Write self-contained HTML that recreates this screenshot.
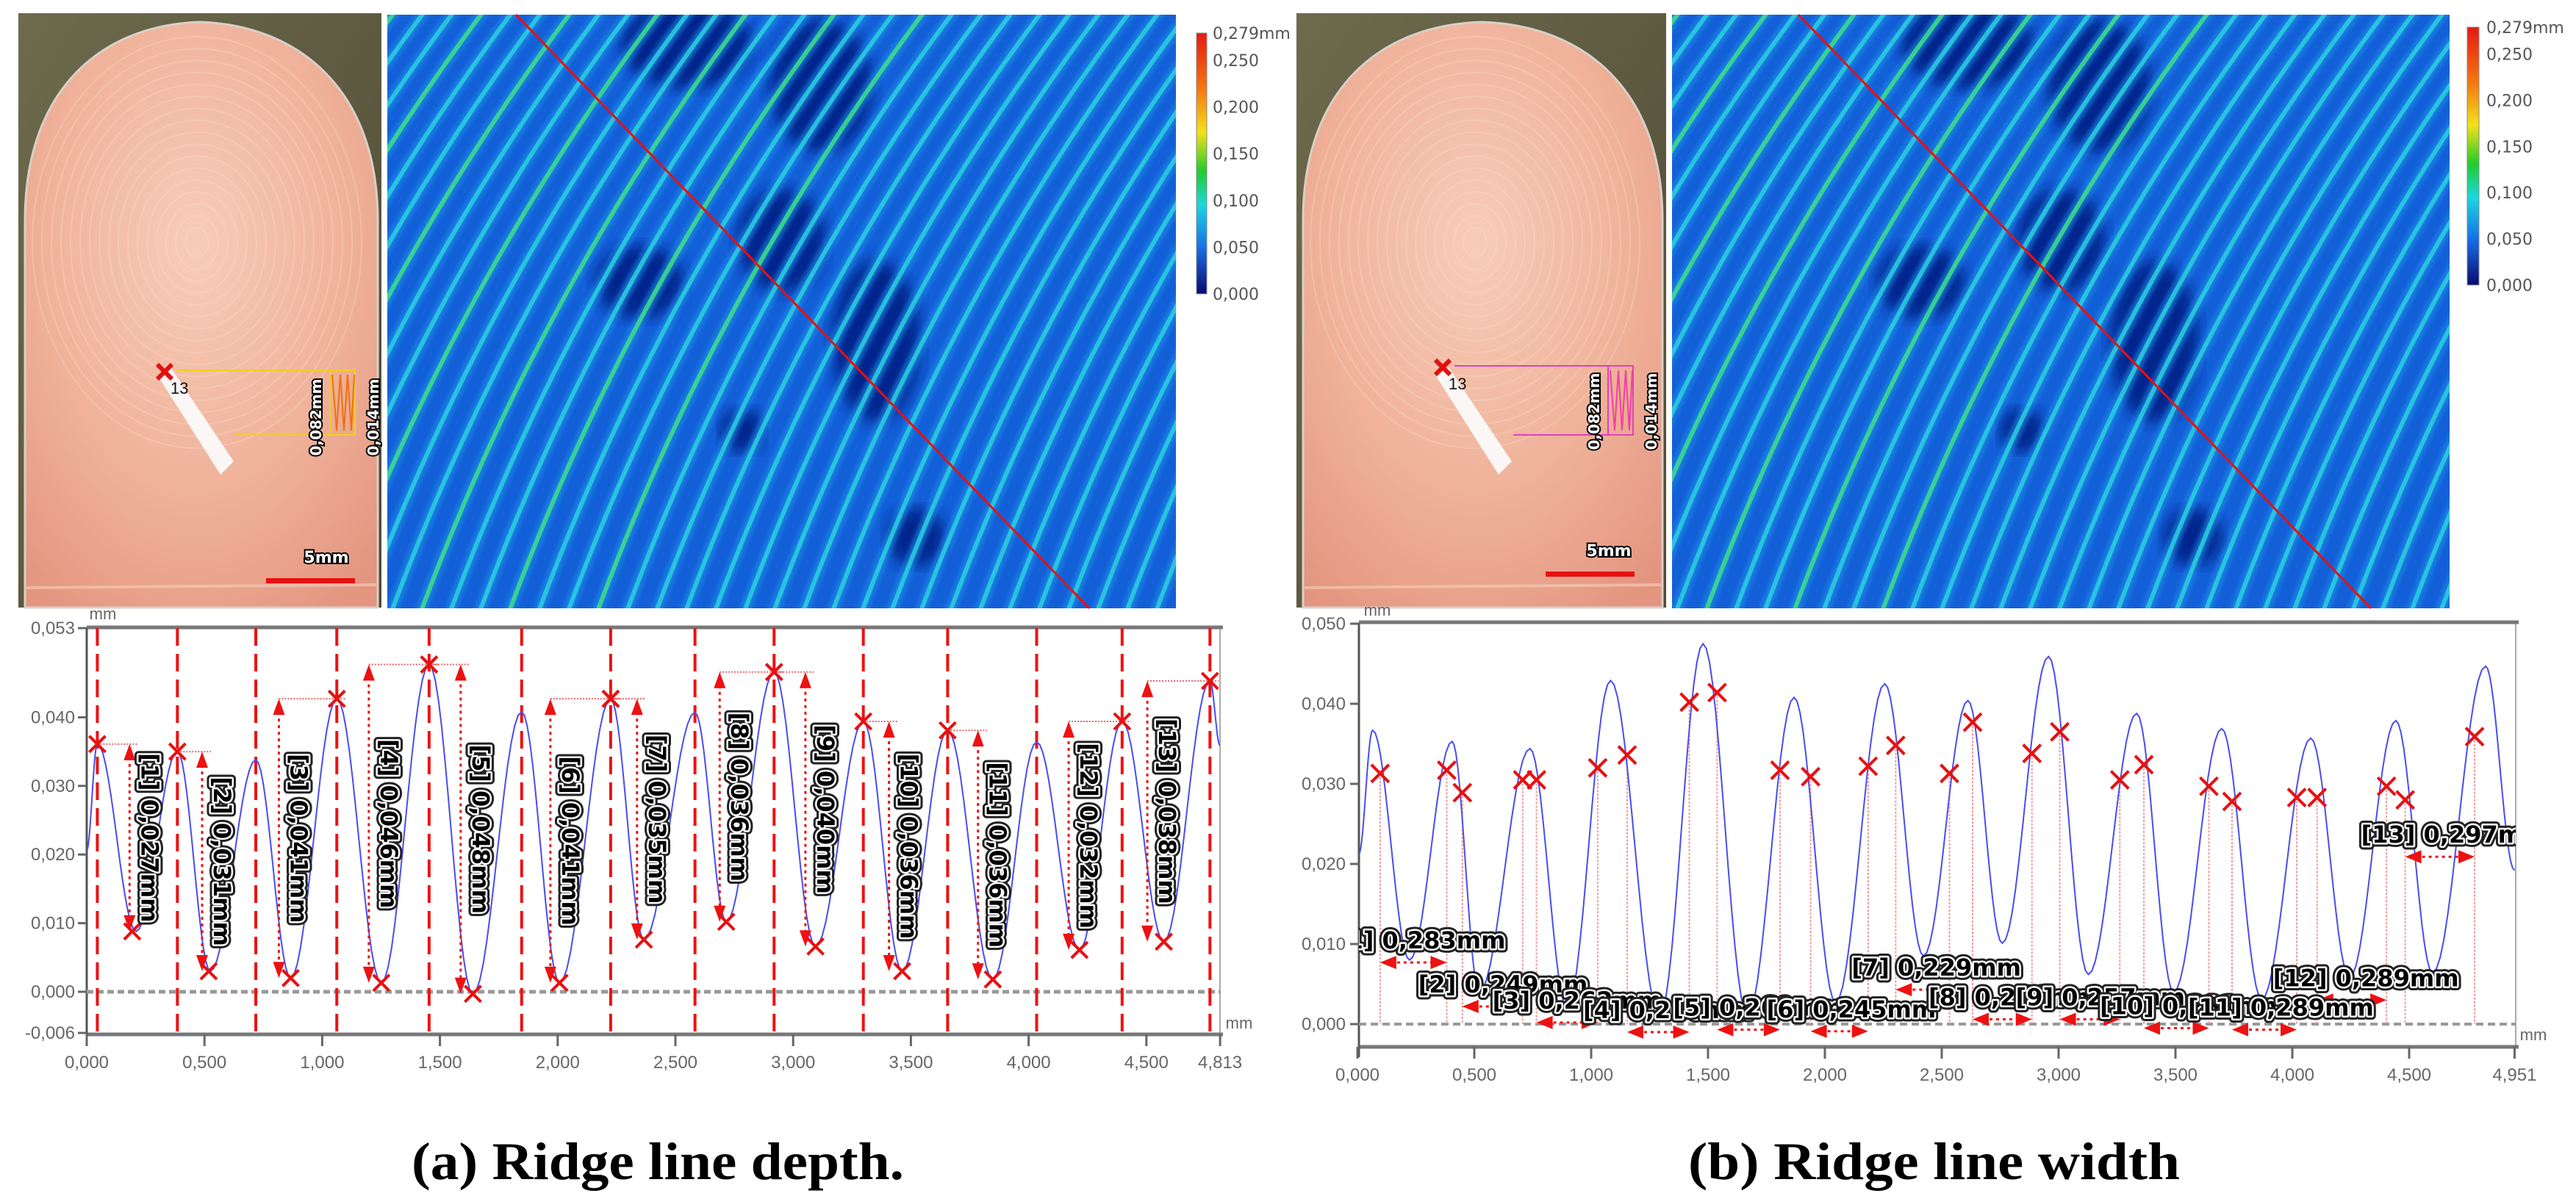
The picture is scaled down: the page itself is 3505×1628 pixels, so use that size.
<!DOCTYPE html>
<html><head><meta charset="utf-8"><title>Ridge line depth and width</title>
<style>
html,body{margin:0;padding:0;background:#fff;}
svg{display:block;}
</style></head>
<body>
<svg id="fig" xmlns="http://www.w3.org/2000/svg" width="3505" height="1628" viewBox="0 0 3505 1628">
<defs>
  <radialGradient id="skin" cx="0.48" cy="0.38" r="0.75">
    <stop offset="0" stop-color="#f7cdb8"/><stop offset="0.6" stop-color="#efb098"/><stop offset="1" stop-color="#e39580"/>
  </radialGradient>
  <linearGradient id="olive" x1="0" y1="0" x2="1" y2="1">
    <stop offset="0" stop-color="#6e6a4c"/><stop offset="1" stop-color="#4f4b35"/>
  </linearGradient>
  <linearGradient id="cbar" x1="0" y1="0" x2="0" y2="1">
    <stop offset="0" stop-color="#e41a12"/><stop offset="0.22" stop-color="#f57a10"/><stop offset="0.38" stop-color="#f2e21a"/>
    <stop offset="0.53" stop-color="#22cc2a"/><stop offset="0.66" stop-color="#18d8e0"/><stop offset="0.82" stop-color="#1870e8"/><stop offset="1" stop-color="#0a0a70"/>
  </linearGradient>
  <clipPath id="clipHA"><rect x="527" y="20" width="1073" height="808"/></clipPath>
  <clipPath id="clipHB"><rect x="2275" y="20" width="1058" height="808"/></clipPath>
  <clipPath id="clipCA"><rect x="118" y="855" width="1542" height="553"/></clipPath>
  <clipPath id="clipCB"><rect x="1849" y="848" width="1574" height="577"/></clipPath>
  <filter id="blur3"><feGaussianBlur stdDeviation="3"/></filter>
  <filter id="blur8"><feGaussianBlur stdDeviation="10"/></filter>
</defs>

<g id="fingerA">
  <rect x="25" y="18" width="494" height="809" fill="url(#olive)"/>
  <path d="M34,827 L34,300 C34,120 140,34 272,30 C404,34 514,120 514,300 L514,827 Z" fill="url(#skin)" stroke="#d8d0c8" stroke-width="3"/>
  <g id="whorlA" fill="none" stroke="#fbe0d2" stroke-width="2" opacity="0.3"></g>
  <line x1="36" y1="800" x2="512" y2="796" stroke="#f5c8b4" stroke-width="4" opacity="0.7"/>
  <polygon points="215,512 232,500 318,628 300,646" fill="#fafafa" opacity="0.95"/>
  <line x1="240" y1="504" x2="483" y2="504" stroke="#f0d020" stroke-width="2"/>
  <line x1="320" y1="592" x2="483" y2="592" stroke="#f0d020" stroke-width="2"/>
  <rect x="449" y="504" width="34" height="88" fill="none" stroke="#f0d020" stroke-width="2"/>
  <path d="M452,510 l6,76 l5,-76 l5,76 l5,-76 l5,76 l4,-76" fill="none" stroke="#f07010" stroke-width="2"/>
  <path d="M214,496 l20,20 M234,496 l-20,20" stroke="#e41010" stroke-width="6"/>
  <text x="232" y="536" font-family="Liberation Sans, sans-serif" font-size="22" fill="#111">13</text>
  <text transform="rotate(-90 430 568)" x="430" y="568" text-anchor="middle" dominant-baseline="central" font-family="DejaVu Sans, sans-serif" font-weight="bold" font-size="20" fill="#fff" stroke="#000" stroke-width="4" paint-order="stroke">0,082mm</text>
  <text transform="rotate(-90 508 568)" x="508" y="568" text-anchor="middle" dominant-baseline="central" font-family="DejaVu Sans, sans-serif" font-weight="bold" font-size="20" fill="#fff" stroke="#000" stroke-width="4" paint-order="stroke">0,014mm</text>
  <text x="444" y="766" text-anchor="middle" font-family="DejaVu Sans, sans-serif" font-weight="bold" font-size="22" fill="#fff" stroke="#000" stroke-width="4" paint-order="stroke">5mm</text>
  <rect x="362" y="787" width="121" height="7" fill="#e81010"/>
</g>

<g id="fingerB" transform="translate(1739 0)">
  <rect x="25" y="18" width="503" height="809" fill="url(#olive)"/>
  <path d="M34,827 L34,300 C34,120 140,34 277,30 C414,34 523,120 523,300 L523,827 Z" fill="url(#skin)" stroke="#d8d0c8" stroke-width="3"/>
  <g id="whorlB" fill="none" stroke="#fbe0d2" stroke-width="2" opacity="0.3"></g>
  <line x1="36" y1="800" x2="521" y2="796" stroke="#f5c8b4" stroke-width="4" opacity="0.7"/>
  <polygon points="215,512 232,500 318,628 300,646" fill="#fafafa" opacity="0.95"/>
  <line x1="240" y1="498" x2="483" y2="498" stroke="#e040c0" stroke-width="2"/>
  <line x1="320" y1="592" x2="483" y2="592" stroke="#e040c0" stroke-width="2"/>
  <rect x="449" y="498" width="34" height="94" fill="none" stroke="#e040c0" stroke-width="2"/>
  <path d="M452,504 l6,82 l5,-82 l5,82 l5,-82 l5,82 l4,-82" fill="none" stroke="#f040a0" stroke-width="2"/>
  <path d="M214,490 l20,20 M234,490 l-20,20" stroke="#e41010" stroke-width="6"/>
  <text x="232" y="530" font-family="Liberation Sans, sans-serif" font-size="22" fill="#111">13</text>
  <text transform="rotate(-90 430 560)" x="430" y="560" text-anchor="middle" dominant-baseline="central" font-family="DejaVu Sans, sans-serif" font-weight="bold" font-size="20" fill="#fff" stroke="#000" stroke-width="4" paint-order="stroke">0,082mm</text>
  <text transform="rotate(-90 508 560)" x="508" y="560" text-anchor="middle" dominant-baseline="central" font-family="DejaVu Sans, sans-serif" font-weight="bold" font-size="20" fill="#fff" stroke="#000" stroke-width="4" paint-order="stroke">0,014mm</text>
  <text x="450" y="757" text-anchor="middle" font-family="DejaVu Sans, sans-serif" font-weight="bold" font-size="22" fill="#fff" stroke="#000" stroke-width="4" paint-order="stroke">5mm</text>
  <rect x="364" y="778" width="121" height="7" fill="#e81010"/>
</g>

<g id="heatA" clip-path="url(#clipHA)"></g>
<g id="heatB" clip-path="url(#clipHB)"></g>
<line x1="702" y1="20" x2="1482" y2="828" stroke="#e81010" stroke-width="3"/>
<line x1="2447" y1="20" x2="3226" y2="828" stroke="#e81010" stroke-width="3"/>

<g id="colorbarA" font-family="DejaVu Sans, sans-serif" font-size="22" fill="#555">
  <rect x="1628" y="45" width="14" height="355" fill="url(#cbar)" stroke="#888" stroke-width="1"/>
</g>
<g id="colorbarB" font-family="DejaVu Sans, sans-serif" font-size="22" fill="#555">
  <rect x="3357" y="37" width="16" height="351" fill="url(#cbar)" stroke="#888" stroke-width="1"/>
</g>

<g id="chartA"></g>
<g id="chartB"></g>

<text x="560" y="1605" textLength="670" lengthAdjust="spacingAndGlyphs" font-family="Liberation Serif, serif" font-weight="bold" font-size="72" fill="#000">(a) Ridge line depth.</text>
<text x="2297" y="1605" textLength="669" lengthAdjust="spacingAndGlyphs" font-family="Liberation Serif, serif" font-weight="bold" font-size="72" fill="#000">(b) Ridge line width</text>
</svg>

<script>
// ---------------- chart A data (depth) ----------------
const curveAx = [0.0,0.045,0.210,0.385,0.525,0.718,0.866,1.062,1.251,1.454,1.640,1.847,2.008,2.225,2.366,2.583,2.716,2.919,3.095,3.298,3.463,3.656,3.848,4.034,4.216,4.397,4.574,4.770,4.813];
const curveAy = [0.0206,0.0361,0.0088,0.0350,0.0030,0.0338,0.0020,0.0427,0.0013,0.0477,-0.0003,0.0408,0.0013,0.0427,0.0076,0.0407,0.0102,0.0466,0.0066,0.0394,0.0030,0.0381,0.0018,0.0364,0.0061,0.0394,0.0073,0.0453,0.0359];
const depthPeakX = [0.045,0.385,1.062,1.454,1.454,2.225,2.225,2.919,2.919,3.298,3.656,4.397,4.770];
const depthPeakV = [0.0361,0.0350,0.0427,0.0477,0.0477,0.0427,0.0427,0.0466,0.0466,0.0394,0.0381,0.0394,0.0453];
const depthTroughX = [0.193,0.518,0.866,1.251,1.640,2.008,2.366,2.716,3.095,3.463,3.848,4.216,4.574];
const depthTroughV = [0.0088,0.0030,0.0020,0.0013,-0.0003,0.0013,0.0076,0.0102,0.0066,0.0030,0.0018,0.0061,0.0073];
const depthArrowX = [0.182,0.490,0.816,1.198,1.588,1.969,2.337,2.688,3.052,3.407,3.785,4.170,4.504];
const depthLabels = ["0,027","0,031","0,041","0,046","0,048","0,041","0,035","0,036","0,040","0,036","0,036","0,032","0,038"];
const yTicksA = [0.053,0.040,0.030,0.020,0.010,0.000,-0.006];
const yTickLabelsA = ["0,053","0,040","0,030","0,020","0,010","0,000","-0,006"];
const xTicksA = [0,0.5,1,1.5,2,2.5,3,3.5,4,4.5,4.813];
const xTickLabelsA = ["0,000","0,500","1,000","1,500","2,000","2,500","3,000","3,500","4,000","4,500","4,813"];

// ---------------- chart B data (width) ----------------
const curveBx = [0.0055,0.065,0.223,0.405,0.521,0.738,0.897,1.083,1.293,1.479,1.669,1.868,2.046,2.256,2.422,2.612,2.759,2.957,3.127,3.334,3.492,3.698,3.869,4.079,4.245,4.443,4.600,4.827,4.951];
const curveBy = [0.0212,0.0367,0.008,0.0353,0.004,0.0344,0.002,0.0429,0.001,0.0475,0.0011,0.0408,0.0027,0.0425,0.0085,0.0404,0.0101,0.0459,0.0062,0.0388,0.0040,0.0369,0.0031,0.0357,0.0058,0.0379,0.0064,0.0447,0.0192];
const edgeX = [0.097,0.382,0.449,0.707,0.766,1.028,1.154,1.420,1.539,1.808,1.939,2.185,2.303,2.533,2.632,2.886,3.005,3.262,3.365,3.643,3.742,4.019,4.106,4.403,4.483,4.780];
const edgeV = [0.0313,0.0317,0.0289,0.0305,0.0305,0.0320,0.0336,0.0402,0.0414,0.0317,0.0309,0.0322,0.0348,0.0313,0.0377,0.0338,0.0365,0.0305,0.0324,0.0297,0.0278,0.0283,0.0283,0.0297,0.0280,0.0359];
const widthLabels = ["0,283","0,249","0,262","0,266","0,269","0,245","0,229","0,254","0,257","0,281","0,289","0,289","0,297"];
const widthArrowV = [0.0077,0.0022,0.0002,-0.0010,-0.0007,-0.0009,0.0043,0.0006,0.0006,-0.0005,-0.0007,0.0030,0.0209];
const yTicksB = [0.050,0.040,0.030,0.020,0.010,0.000];
const yTickLabelsB = ["0,050","0,040","0,030","0,020","0,010","0,000"];
const xTicksB = [0,0.5,1,1.5,2,2.5,3,3.5,4,4.5,4.951];
const xTickLabelsB = ["0,000","0,500","1,000","1,500","2,000","2,500","3,000","3,500","4,000","4,500","4,951"];

const cbarTicks = [0.279,0.250,0.200,0.150,0.100,0.050,0.000];
const cbarLabels = ["0,279mm","0,250","0,200","0,150","0,100","0,050","0,000"];

const NS='http://www.w3.org/2000/svg';
function mk(parent,tag,attrs){const e=document.createElementNS(NS,tag);for(const k in attrs)e.setAttribute(k,attrs[k]);parent.appendChild(e);return e;}

function smoothPath(xs,ys,fx,fy){
  let d='M'+fx(xs[0]).toFixed(1)+','+fy(ys[0]).toFixed(1);
  for(let i=0;i<xs.length-1;i++){
    for(let s=1;s<=14;s++){
      const t=s/14;const e=(1-Math.cos(Math.PI*t))/2;
      const x=xs[i]+(xs[i+1]-xs[i])*t;const y=ys[i]+(ys[i+1]-ys[i])*e;
      d+=' L'+fx(x).toFixed(1)+','+fy(y).toFixed(1);
    }
  }
  return d;
}
function xMark(g,cx,cy,r,name){
  const p=mk(g,'path',{d:`M${cx-r},${cy-r}L${cx+r},${cy+r}M${cx+r},${cy-r}L${cx-r},${cy+r}`,stroke:'#e81010','stroke-width':4,fill:'none'});
  
  
}

['whorlA','whorlB'].forEach(id=>{
  const g=document.getElementById(id);
  for(let r=16;r<=230;r+=13){
    const el=mk(g,'ellipse',{cx:268,cy:330,rx:r,ry:r*1.25});
    
    
  }
});

function heat(g,x0,x1,y0,y1){
  const base=mk(g,'rect',{x:x0,y:y0,width:x1-x0,height:y1-y0,fill:'#135fd8'});
  
  
  const dark=[[0.38,0.05,90,60],[0.55,0.12,70,90],[0.32,0.45,60,50],[0.5,0.38,60,70],[0.62,0.55,60,110],[0.67,0.88,40,40],[0.45,0.7,30,30]];
  dark.forEach(d=>{
    const el=mk(g,'ellipse',{cx:x0+d[0]*(x1-x0),cy:y0+d[1]*(y1-y0),rx:d[2],ry:d[3],fill:'#061a80',opacity:0.85,filter:'url(#blur8)'});
    
    
  });
  const H=y1-y0;
  for(let i=0;i<42;i++){
    const bx=x0-440+i*40;
    const d=`M${bx},${y1+20} Q${bx+170},${y0+H*0.45} ${bx+470},${y0-30}`;
    const col=(i<20 && i%3==0)?'#3ee08a':'#2cd0e0';
    const s1=mk(g,'path',{d:d,stroke:'#1a90e6',fill:'none','stroke-width':16,opacity:0.6,filter:'url(#blur3)'});
    
    
    const s2=mk(g,'path',{d:d,stroke:col,fill:'none','stroke-width':6,opacity:0.85});
    
    
  }
}
heat(document.getElementById('heatA'),527,1600,20,828);
heat(document.getElementById('heatB'),2275,3333,20,828);

function cbar(g,x,ytop,ybot){
  const f=v=>ybot-(v/0.279)*(ybot-ytop);
  cbarTicks.forEach((t,i)=>{
    const tx=mk(g,'text',{x:x,y:f(t)+8});
    tx.textContent=cbarLabels[i];
    
    
  });
}
cbar(document.getElementById('colorbarA'),1650,45,400);
cbar(document.getElementById('colorbarB'),3383,37,388);

function outlinedText(g,x,y,str,rot,anchor,name){
  const tr=rot?`rotate(90 ${x} ${y})`:'';
  const a=mk(g,'text',{x:x,y:y,'text-anchor':anchor,'dominant-baseline':'central','font-family':'DejaVu Sans, sans-serif','font-weight':'bold','font-size':32,fill:'#222',stroke:'#222','stroke-width':11,'stroke-linejoin':'round',transform:tr});
  a.textContent=str;
  
  
  const b=mk(g,'text',{x:x,y:y,'text-anchor':anchor,'dominant-baseline':'central','font-family':'DejaVu Sans, sans-serif','font-weight':'bold','font-size':32,fill:'#000',stroke:'#fff','stroke-width':5,'paint-order':'stroke','stroke-linejoin':'round',transform:tr});
  b.textContent=str;
  
  
}

(function(){
  const g=document.getElementById('chartA');
  const L=118,R=1660,T=855,B=1408;
  const xA=v=>L+v*320.4, yA=v=>1350-v*9340;
  const frame=mk(g,'rect',{x:L,y:T,width:R-L,height:B-T,fill:'#fff',stroke:'#aaa','stroke-width':2});
  
  
  const top=mk(g,'line',{x1:L,y1:T-1,x2:R+4,y2:T-1,stroke:'#777','stroke-width':5});
  
  
  const bot=mk(g,'line',{x1:L,y1:B,x2:R+4,y2:B,stroke:'#777','stroke-width':5});
  
  
  const ax=mk(g,'line',{x1:L,y1:T,x2:L,y2:B+14,stroke:'#555','stroke-width':3});
  
  
  yTicksA.forEach((t,i)=>{
    const tk=mk(g,'line',{x1:L-12,y1:yA(t),x2:L,y2:yA(t),stroke:'#666','stroke-width':3});
    
    
    const tx=mk(g,'text',{x:L-16,y:yA(t)+8,'text-anchor':'end','font-family':'Liberation Sans, sans-serif','font-size':24,fill:'#666'});
    tx.textContent=yTickLabelsA[i];
    
    
  });
  xTicksA.forEach((t,i)=>{
    const tk=mk(g,'line',{x1:xA(t),y1:B,x2:xA(t),y2:B+16,stroke:'#666','stroke-width':3});
    
    
    const tx=mk(g,'text',{x:xA(t),y:B+46,'text-anchor':'middle','font-family':'Liberation Sans, sans-serif','font-size':24,fill:'#666'});
    tx.textContent=xTickLabelsA[i];
    
    
  });
  const u1=mk(g,'text',{x:140,y:843,'text-anchor':'middle','font-family':'Liberation Sans, sans-serif','font-size':22,fill:'#666'});
  u1.textContent='mm';
  
  
  const u2=mk(g,'text',{x:1686,y:1400,'text-anchor':'middle','font-family':'Liberation Sans, sans-serif','font-size':22,fill:'#666'});
  u2.textContent='mm';
  
  

  const c=mk(g,'g',{'clip-path':'url(#clipCA)'});
  
  
  const zero=mk(c,'line',{x1:L,y1:yA(0),x2:R,y2:yA(0),stroke:'#999','stroke-width':5,'stroke-dasharray':'9 5'});
  
  
  for(let i=1;i<curveAy.length-1;i++){
    if(curveAy[i]>curveAy[i-1] && curveAy[i]>curveAy[i+1]){
      const gl=mk(c,'line',{x1:xA(curveAx[i]),y1:T,x2:xA(curveAx[i]),y2:B,stroke:'#ee1111','stroke-width':4,'stroke-dasharray':'24 11'});
      
      
    }
  }
  const cv=mk(c,'path',{d:smoothPath(curveAx,curveAy,xA,yA),fill:'none',stroke:'#4a4cf0','stroke-width':2});
  
  
  depthPeakX.forEach((px,i)=>{
    const ax_=xA(depthArrowX[i]), yp=yA(depthPeakV[i]), yt=yA(depthTroughV[i]);
    const h=mk(c,'line',{x1:Math.min(xA(px),ax_),y1:yp,x2:Math.max(xA(px),ax_)+12,y2:yp,stroke:'#f06060','stroke-width':2,'stroke-dasharray':'2 2'});
    
    
    const v=mk(c,'line',{x1:ax_,y1:yp+18,x2:ax_,y2:yt-18,stroke:'#ee1111','stroke-width':3,'stroke-dasharray':'4 5'});
    
    
    const up=mk(c,'path',{d:`M${ax_},${yp} l-8,22 l16,0 z`,fill:'#ee1111'});
    
    
    const dn=mk(c,'path',{d:`M${ax_},${yt} l-8,-22 l16,0 z`,fill:'#ee1111'});
    
    
    xMark(c,xA(px),yp,11,'peak-marker');
    xMark(c,xA(depthTroughX[i]),yt,11,'trough-marker');
  });
  depthLabels.forEach((lab,i)=>{
    const x=xA(depthArrowX[i])+27, y=(yA(depthPeakV[i])+yA(depthTroughV[i]))/2;
    outlinedText(c,x,y,'['+(i+1)+'] '+lab+'mm',true,'middle','depth-label');
  });
})();

(function(){
  const g=document.getElementById('chartB');
  const L=1849,R=3423,T=848,B=1425;
  const xB=v=>1847+v*318, yB=v=>1394-v*10900;
  const frame=mk(g,'rect',{x:L,y:T,width:R-L,height:B-T,fill:'#fff',stroke:'#aaa','stroke-width':2});
  
  
  const top=mk(g,'line',{x1:L,y1:T-1,x2:R+4,y2:T-1,stroke:'#777','stroke-width':5});
  
  
  const bot=mk(g,'line',{x1:L,y1:B,x2:R+4,y2:B,stroke:'#777','stroke-width':5});
  
  
  const ax=mk(g,'line',{x1:L,y1:T,x2:L,y2:B+14,stroke:'#555','stroke-width':3});
  
  
  yTicksB.forEach((t,i)=>{
    const tk=mk(g,'line',{x1:L-12,y1:yB(t),x2:L,y2:yB(t),stroke:'#666','stroke-width':3});
    
    
    const tx=mk(g,'text',{x:L-18,y:yB(t)+8,'text-anchor':'end','font-family':'Liberation Sans, sans-serif','font-size':24,fill:'#666'});
    tx.textContent=yTickLabelsB[i];
    
    
  });
  xTicksB.forEach((t,i)=>{
    const tk=mk(g,'line',{x1:xB(t),y1:B,x2:xB(t),y2:B+16,stroke:'#666','stroke-width':3});
    
    
    const tx=mk(g,'text',{x:xB(t),y:B+46,'text-anchor':'middle','font-family':'Liberation Sans, sans-serif','font-size':24,fill:'#666'});
    tx.textContent=xTickLabelsB[i];
    
    
  });
  const u1=mk(g,'text',{x:1874,y:838,'text-anchor':'middle','font-family':'Liberation Sans, sans-serif','font-size':22,fill:'#666'});
  u1.textContent='mm';
  
  
  const u2=mk(g,'text',{x:3447,y:1416,'text-anchor':'middle','font-family':'Liberation Sans, sans-serif','font-size':22,fill:'#666'});
  u2.textContent='mm';
  
  

  const c=mk(g,'g',{'clip-path':'url(#clipCB)'});
  
  
  const zero=mk(c,'line',{x1:L,y1:yB(0),x2:R,y2:yB(0),stroke:'#999','stroke-width':4,'stroke-dasharray':'10 6'});
  
  
  edgeX.forEach((ex,i)=>{
    const pl=mk(c,'line',{x1:xB(ex),y1:yB(edgeV[i]),x2:xB(ex),y2:yB(0),stroke:'#f29a9a','stroke-width':2,'stroke-dasharray':'3 2'});
    
    
  });
  const cv=mk(c,'path',{d:smoothPath(curveBx,curveBy,xB,yB),fill:'none',stroke:'#4a4cf0','stroke-width':2});
  
  
  edgeX.forEach((ex,i)=>{ xMark(c,xB(ex),yB(edgeV[i]),12,'ridge-edge-marker'); });
  widthLabels.forEach((lab,k)=>{
    const x0=xB(edgeX[2*k]), x1=xB(edgeX[2*k+1]), y=yB(widthArrowV[k]);
    const ln=mk(c,'line',{x1:x0+14,y1:y,x2:x1-14,y2:y,stroke:'#ee1111','stroke-width':3,'stroke-dasharray':'4 5'});
    
    
    const h1=mk(c,'path',{d:`M${x0},${y} l22,-9 l0,18 z`,fill:'#ee1111'});
    
    
    const h2=mk(c,'path',{d:`M${x1},${y} l-22,-9 l0,18 z`,fill:'#ee1111'});
    
    
  });
  widthLabels.forEach((lab,k)=>{
    const x=xB(edgeX[2*k])-60, y=yB(widthArrowV[k])-30;
    outlinedText(c,x,y,'['+(k+1)+'] '+lab+'mm',false,'start','width-label');
  });
})();
</script>
</body></html>
